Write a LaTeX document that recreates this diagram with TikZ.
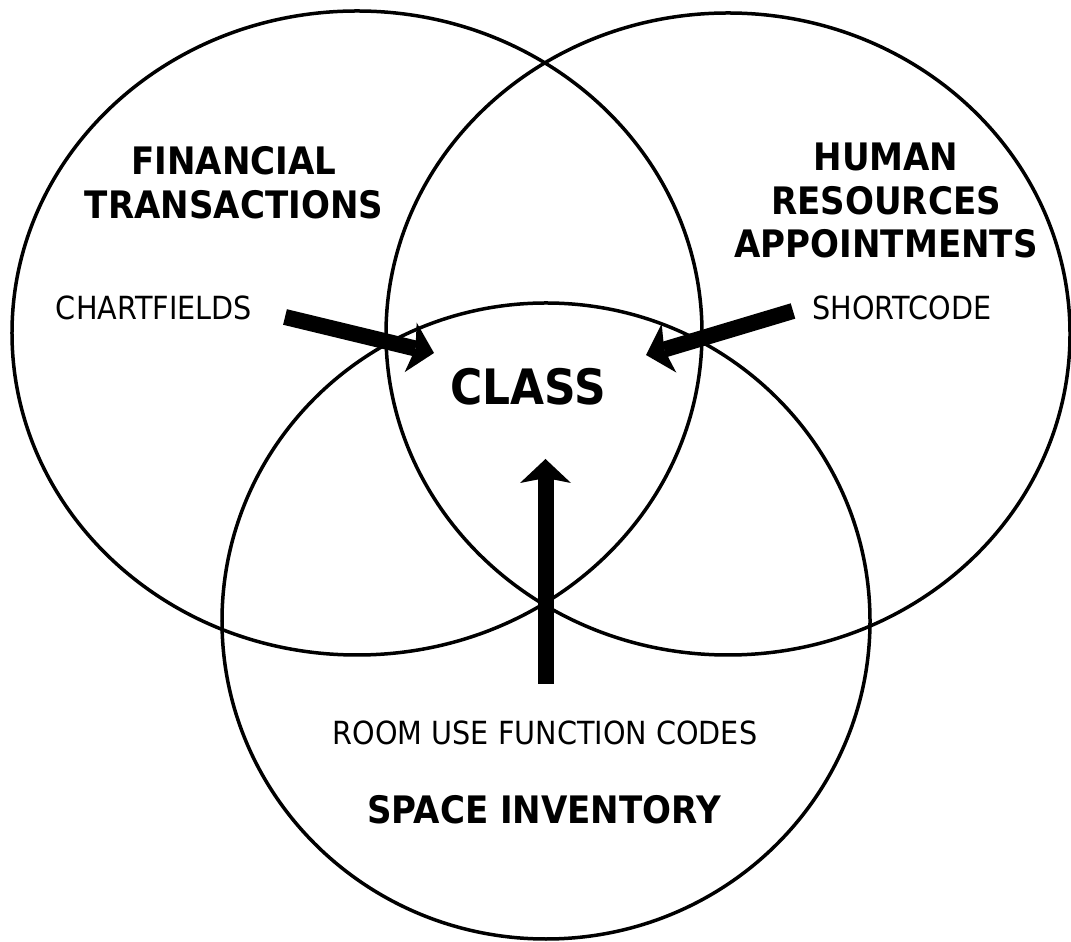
\documentclass[tikz,border=0pt]{standalone}
\usepackage{fontspec}
\setmainfont{DejaVu Sans}[FakeStretch=0.9]
\usetikzlibrary{arrows.meta}

\begin{document}
\begin{tikzpicture}[x=1bp,y=1bp,
  kreis/.style={line width=3.5bp},
  bereich/.style={font=\fontsize{38}{44}\selectfont\bfseries,align=center},
  schluessel/.style={font=\fontsize{32}{38}\selectfont,anchor=base},
  dick/.style={line width=16bp,-{Stealth[length=24bp,width=51bp,inset=5bp,line width=0pt]}}]
\useasboundingbox (0,0) rectangle (1071,942);
\def\strahl#1#2{\draw[dick] (#1) -- (#2);}

% the three sets
\draw[kreis] (357,609) ellipse [x radius=345bp,y radius=322bp];
\draw[kreis] (728,608) ellipse [x radius=342bp,y radius=321bp];
\draw[kreis] (546,321) ellipse [x radius=324bp,y radius=318bp];

\node[bereich] at (234,759.5) (fin) {FINANCIAL\\TRANSACTIONS};
\node[bereich] at (886,741.5) (hr) {HUMAN\\RESOURCES\\APPOINTMENTS};
\node[bereich,anchor=base] at (544,118) (space) {SPACE INVENTORY};
\node[anchor=base,font=\fontsize{49}{55}\selectfont\bfseries] at (528,537) (class) {CLASS};

\node[schluessel] at (154,622) (chart) {CHARTFIELDS};
\node[schluessel] at (902,622) (short) {SHORTCODE};
\node[schluessel] at (545,197) (room) {ROOM USE FUNCTION CODES};

% keys pointing into the middle
\coordinate (chartend) at (285,625);
\coordinate (shortend) at (793,631);
\coordinate (roomend) at (545.5,258);
\coordinate (linksin) at (434,589);
\coordinate (rechtsin) at (646,587);
\coordinate (untenin) at (545.5,483);

\strahl{chartend}{linksin}
\strahl{shortend}{rechtsin}
\strahl{roomend}{untenin}
\end{tikzpicture}
\end{document}
